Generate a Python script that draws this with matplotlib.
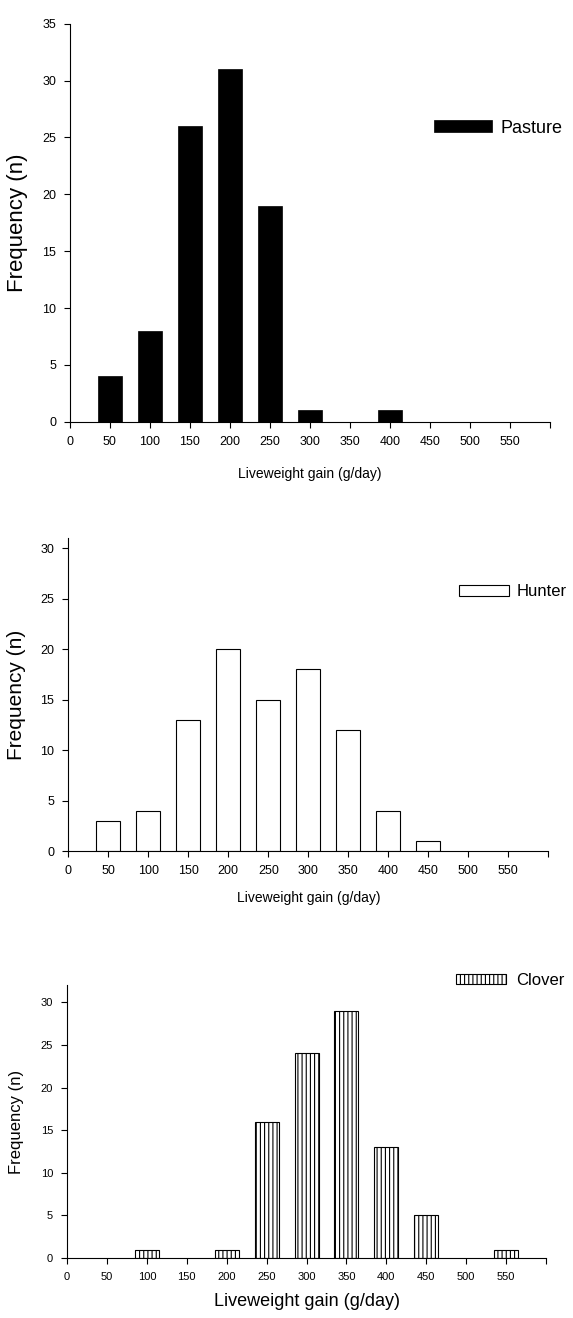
import matplotlib
matplotlib.use('Agg')
from matplotlib import pyplot as plt
import numpy as np

plt.rcParams['font.family'] = ['Liberation Sans', 'DejaVu Sans']
plt.rcParams['hatch.linewidth'] = 0.8

# liveweight gain classes (g/day) and counts per group
gain = [50, 100, 150, 200, 250, 300, 350, 400, 450, 500, 550]
pasture = [4, 8, 26, 31, 19, 1, 0, 1, 0, 0, 0]
hunter = [3, 4, 13, 20, 15, 18, 12, 4, 1, 0, 0]
clover_gain = [100, 200, 250, 300, 350, 400, 450, 550]
clover = [1, 1, 16, 24, 29, 13, 5, 1]

xticks = [0, 50, 100, 150, 200, 250, 300, 350, 400, 450, 500, 550]

fig = plt.figure(figsize=(5.73, 13.18), dpi=100)

def style_axes(ax, ymax, ystep, tick_fs):
    ax.set_xlim(0, 600)
    ax.set_ylim(0, ymax)
    ax.spines['top'].set_visible(False)
    ax.spines['right'].set_visible(False)
    ax.spines['left'].set_linewidth(0.8)
    ax.spines['bottom'].set_linewidth(0.8)
    ax.set_xticks(xticks + [600])
    ax.set_xticklabels([str(t) for t in xticks] + [''])
    ax.set_yticks(np.arange(0, ymax + 0.1, ystep))
    ax.tick_params(direction='out', length=4, width=0.8, labelsize=tick_fs, pad=6)


# Pasture
ax1 = fig.add_axes([0.122, 0.680, 0.838, 0.302])
g = [x for x, c in zip(gain, pasture) if c > 0]
p = [c for c in pasture if c > 0]
b1 = ax1.bar(g, p, width=30, color='black', edgecolor='black', linewidth=0.5)
style_axes(ax1, 35, 5, 9)
ax1.set_ylabel('Frequency (n)', fontsize=16, labelpad=10)
ax1.set_xlabel('Liveweight gain (g/day)', fontsize=10, labelpad=14)
ax1.legend([b1], ['Pasture'], loc='upper right', bbox_to_anchor=(1.06, 0.80),
           frameon=False, fontsize=13, handlelength=3.2, handleheight=0.6,
           handletextpad=0.5)

# Hunter
ax2 = fig.add_axes([0.119, 0.3543, 0.838, 0.2375])
g = [x for x, c in zip(gain, hunter) if c > 0]
h = [c for c in hunter if c > 0]
b2 = ax2.bar(g, h, width=30, color='white', edgecolor='black', linewidth=0.8)
style_axes(ax2, 31, 5, 9)
ax2.set_ylabel('Frequency (n)', fontsize=15, labelpad=10)
ax2.set_xlabel('Liveweight gain (g/day)', fontsize=10, labelpad=10)
ax2.legend([b2], ['Hunter'], loc='upper right', bbox_to_anchor=(1.07, 0.90),
           frameon=False, fontsize=12, handlelength=3.0, handleheight=0.6,
           handletextpad=0.5)

# Clover
ax3 = fig.add_axes([0.117, 0.0455, 0.836, 0.207])
b3 = ax3.bar(clover_gain, clover, width=30, color='white', edgecolor='black',
             linewidth=0.8, hatch='||||')
style_axes(ax3, 32, 5, 8)
ax3.set_ylabel('Frequency (n)', fontsize=12, labelpad=12)
ax3.set_xlabel('Liveweight gain (g/day)', fontsize=13, labelpad=8)
ax3.legend([b3], ['Clover'], loc='upper right', bbox_to_anchor=(1.07, 1.10),
           frameon=False, fontsize=12, handlelength=3.0, handleheight=0.5,
           handletextpad=0.6)

fig.savefig('out.png', dpi=100)
